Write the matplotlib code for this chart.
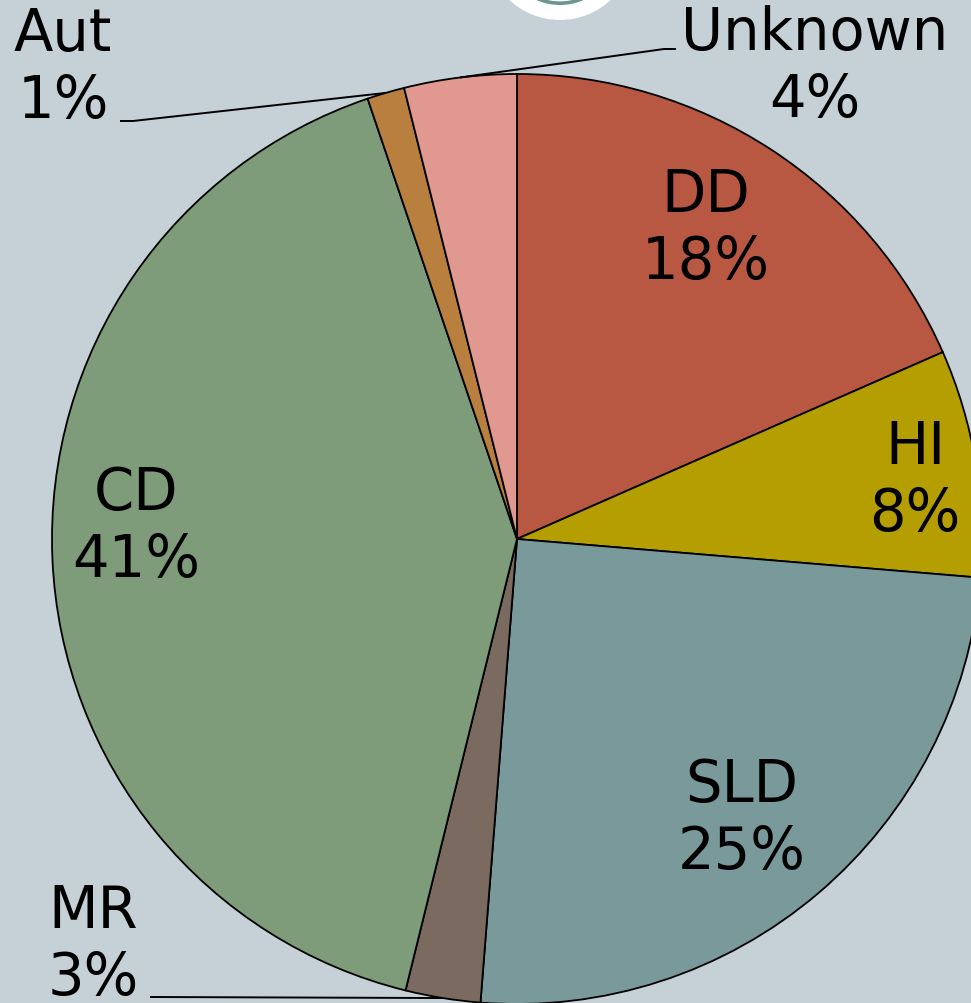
import numpy as np
import matplotlib
matplotlib.use("Agg")
import matplotlib.pyplot as plt
from matplotlib.patches import Circle, Wedge

# ---- data ----
categories = ["DD", "HI", "SLD", "MR", "CD", "Aut", "Unknown"]
values = [18.4, 7.9, 24.9, 2.6, 40.9, 1.3, 3.9]
pct_labels = ["18%", "8%", "25%", "3%", "41%", "1%", "4%"]
colors = ["#B85842", "#B49E00", "#7A999B", "#7A6A5F", "#7E9B7A", "#B87F3F", "#E09890"]

# ---- layout (pixel coordinates, y measured from top) ----
W, H = 971, 1004
BG = "#C5D1D7"
center_px = (517, 540)
radius = 465
label_pos = {
    "DD": (706, 229),
    "HI": (915, 481),
    "SLD": (742, 819),
    "MR": (93, 945),
    "CD": (136, 527),
    "Aut": (63, 68),
    "Unknown": (815, 67),
}
# outside labels: (anchor point where leader starts, short horizontal end)
leaders = {
    "Aut": ((133, 122), (120, 122)),
    "Unknown": ((664, 50), (676, 50)),
    "MR": ((150, 998), (150, 998)),
}

fig = plt.figure(figsize=(W / 100, H / 100), dpi=100, facecolor=BG)
ax = fig.add_axes([0, 0, 1, 1])
ax.set_facecolor(BG)

def py(y):
    return H - y

cx, cy = center_px[0], py(center_px[1])

wedges, _ = ax.pie(values, colors=colors, startangle=90, counterclock=False,
                   center=(cx, cy), radius=radius, frame=True,
                   wedgeprops=dict(edgecolor="black", linewidth=1.3))
ax.set_xlim(0, W)
ax.set_ylim(0, H)
ax.set_aspect("equal")
ax.axis("off")

# decorative logo at top
ax.add_patch(Circle((560, py(-53)), 74, facecolor="white", edgecolor="none", zorder=5))
ax.add_patch(Wedge((560, py(-53)), 59, 0, 360, width=3.6, facecolor="#6F9591", edgecolor="none", zorder=6))

for w, cat, pl in zip(wedges, categories, pct_labels):
    x, y = label_pos[cat]
    ax.text(x, py(y), f"{cat}\n{pl}", ha="center", va="center", fontsize=41.5,
            family="DejaVu Sans", color="black", linespacing=1.23, zorder=7)
    if cat in leaders:
        mid = np.deg2rad((w.theta1 + w.theta2) / 2)
        ex, ey = cx + radius * np.cos(mid), cy + radius * np.sin(mid)
        (ax0, ay0), (hx, hy) = leaders[cat]
        ax.plot([hx, ax0, ex], [py(hy), py(ay0), ey], color="black", lw=1.4,
                zorder=7, solid_capstyle="butt")

fig.savefig("out.png", dpi=100, facecolor=BG)
